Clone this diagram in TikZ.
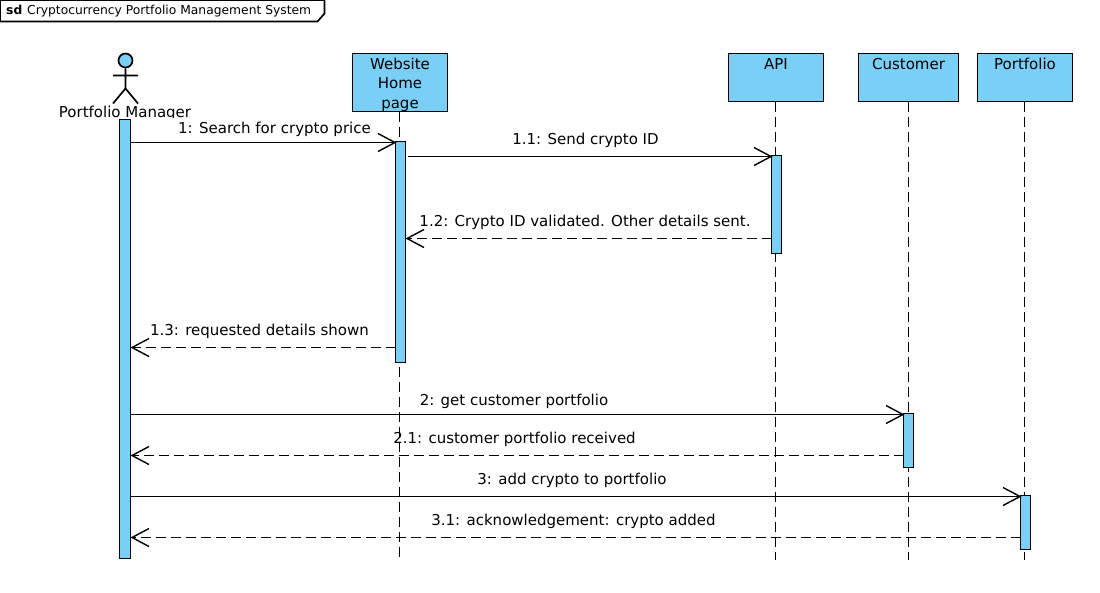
\documentclass[tikz,border=0pt]{standalone}
\usepackage{fontspec}
\setmainfont{DejaVu Sans}
\usetikzlibrary{arrows.meta,positioning}
\definecolor{cSky}{HTML}{79CFF6}
\tikzset{
  lifebox/.style={draw=black,fill=cSky,line width=1.7pt,minimum height=#1,inner sep=0pt,outer sep=0pt,anchor=north},
  lifeline/.style={line width=1.7pt,dash pattern=on 10pt off 5pt},
  actbar/.style={draw=black,fill=cSky,line width=1.7pt,inner sep=0pt,outer sep=0pt,anchor=north},
  msg/.style={line width=1.7pt,shorten >=-1pt,-{Straight Barb[length=17pt,width=18pt,line width=1.4pt]}},
  msgback/.style={msg,shorten >=0pt,dash pattern=on 10pt off 5pt},
  msgtext/.style={font=\fontsize{15}{15}\selectfont,inner sep=0pt,anchor=base}
}
\begin{document}
\begin{tikzpicture}[x=1pt,y=-1pt,font=\fontsize{15}{19.6}\selectfont]
  \useasboundingbox (0,0) rectangle (1100,592);
  % frame tag
  \draw[line width=1.7pt] (0,0) -- (324.5,0) -- (324.5,13.5) -- (317.5,21.5) -- (0,21.5) -- cycle;
  \node[font=\fontsize{12.3}{14}\selectfont,anchor=west,inner sep=0pt] (frametag) at (6,11.5) {\textbf{sd}\hspace{0.4em}Cryptocurrency Portfolio Management System};
  % actor
  \node[circle,draw=black,fill=cSky,line width=1.7pt,minimum size=14pt,inner sep=0pt] (pmhead) at (125.5,60.5) {};
  \coordinate (pmhip) at (125.5,88.5);
  \coordinate (pmarml) at (113,75.5);
  \coordinate (pmarmr) at (138,75.5);
  \coordinate (pmfootl) at (113,103.5);
  \coordinate (pmfootr) at (138,103.5);
  \draw[line width=1.7pt] (pmhead.south) -- (pmhip) (pmarml) -- (pmarmr) (pmfootl) -- (pmhip) -- (pmfootr);
  \begin{scope}
    \clip (0,90) rectangle (300,117.5);
    \node[inner sep=0pt,anchor=base] (pmlabel) at (125,117) {Portfolio Manager};
  \end{scope}
  % lifeline heads
  \foreach \n/\x/\lx/\w/\h/\txt in {web/400/399.5/95/58/{Website\\Home\\page},api/776/775.5/95/48/API,cust/908.5/908.5/100/48/Customer,port/1025/1024.5/95/48/Portfolio}{
    \node[lifebox=\h pt,minimum width=\w pt] (\n) at (\x,53.5) {};
    \node[anchor=north,align=center,inner sep=0pt,yshift=-4pt] (\n label) at (\n.north) {\rule{0pt}{11.5pt}\txt};
    \coordinate (\n end) at (\lx,560);
    \draw[lifeline] (\n.south -| \n end) -- (\n end);}
  % activations
  \foreach \n/\x/\y/\w/\h in {barPM/125/119.5/11/439,barWeb/400.5/141.5/10/221,barAPI/776.5/155.5/10/98,barCust/908.5/413.5/10/54,barPort/1025.5/495.5/10/54}{
    \node[actbar,minimum width=\w pt,minimum height=\h pt] (\n) at (\x,\y) {};}
  \coordinate (webout) at ([xshift=2pt]barWeb.east);
  % messages
  \foreach \i/\from/\to/\y/\kind/\lx/\ly/\txt in {
    a/barPM.east/barWeb.west/142.5/msg/274.5/133/{1: Search for crypto price},
    b/webout/barAPI.west/156.5/msg/585.5/144/{1.1: Send crypto ID},
    c/barAPI.west/barWeb.east/238.5/msgback/585/226/{1.2: Crypto ID validated. Other details sent.},
    d/barWeb.west/barPM.east/347.5/msgback/259.5/335/{1.3: requested details shown},
    e/barPM.east/barCust.west/414.5/msg/514/405/{2: get customer portfolio},
    f/barCust.west/barPM.east/455.5/msgback/514.5/443/{2.1: customer portfolio received},
    g/barPM.east/barPort.west/496.5/msg/572/484/{3: add crypto to portfolio},
    h/barPort.west/barPM.east/537.5/msgback/573.5/525/{3.1: acknowledgement: crypto added}}{
    \coordinate (y\i) at (0,\y);
    \draw[\kind] (\from |- y\i) -- (\to |- y\i);
    \node[msgtext] (text\i) at (\lx,\ly) {\txt};}
\end{tikzpicture}
\end{document}
